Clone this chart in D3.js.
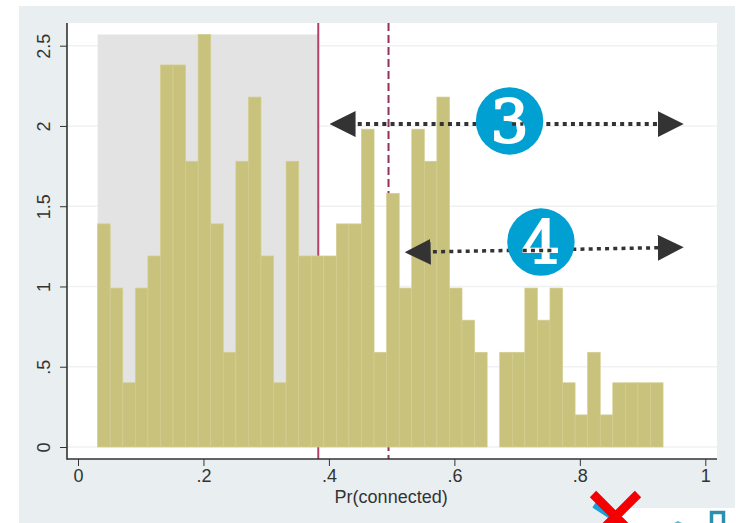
<!DOCTYPE html>
<html>
<head>
<meta charset="utf-8">
<script src="https://cdn.jsdelivr.net/npm/d3@7"></script>
<style>
  html, body { margin: 0; padding: 0; background: #fff; overflow: hidden; }
  svg { display: block; }
  text { font-family: "Liberation Sans", Arial, sans-serif; fill: #333; }
</style>
</head>
<body>
<script>
  // histogram densities, one per bin
  const densities = [
    1.39, 0.99, 0.40, 0.99, 1.19, 2.38, 2.38, 1.78, 2.57, 1.39,
    0.59, 1.78, 2.18, 1.19, 0.40, 1.78, 1.19, 1.19, 1.19, 1.39,
    1.39, 1.98, 0.59, 1.58, 0.99, 1.98, 1.78, 2.18, 0.99, 0.79,
    0.59, 0, 0.59, 0.59, 0.99, 0.79, 0.99, 0.40, 0.20, 0.59,
    0.20, 0.40, 0.40, 0.40, 0.40
  ];
  const binStart = 0.0313;
  const binWidth = 0.02003;

  const xTicks = [0, 0.2, 0.4, 0.6, 0.8, 1];
  const xTickLabels = ["0", ".2", ".4", ".6", ".8", "1"];
  const yTicks = [0, 0.5, 1, 1.5, 2, 2.5];
  const yTickLabels = ["0", ".5", "1", "1.5", "2", "2.5"];
  const xTitle = "Pr(connected)";

  // thresholds: solid and dashed vertical lines
  const solidCut = 0.383;
  const dashedCut = 0.495;
  const shadeTop = 2.57;

  // annotation arrows and badges, in data units
  const arrows = [
    { x1: 0.401, y1: 2.012, x2: 0.9656, y2: 2.012 },
    { x1: 0.5208, y1: 1.215, x2: 0.9656, y2: 1.242 }
  ];
  const badges = [
    { label: "3", x: 0.688, y: 2.031, digitFrom: 0.692, digitTo: 0.71 },
    { label: "4", x: 0.738, y: 1.277, digitFrom: 0.709, digitTo: 0.757 }
  ];

  const width = 736;
  const height = 523;
  const margin = { top: 23, right: 19, bottom: 64, left: 67 };

  var svg = d3.select("body").append("svg")
    .attr("width", width)
    .attr("height", height);

  // outer slide background and plot region
  svg.append("rect").attr("x", 19).attr("y", 6)
    .attr("width", width - 20).attr("height", height - 6)
    .attr("fill", "#e9eef1");
  svg.append("rect").attr("x", margin.left).attr("y", margin.top)
    .attr("width", width - margin.left - margin.right)
    .attr("height", height - margin.top - margin.bottom)
    .attr("fill", "#fff");

  var x = d3.scaleLinear().domain([0, 1]).range([78, 705.3]);
  var y = d3.scaleLinear().domain([0, 2.5]).range([447, 45.7]);

  const plotBottom = height - margin.bottom;
  const plotRight = width - margin.right;

  // grid
  svg.append("g").selectAll("line").data(yTicks).join("line")
    .attr("x1", margin.left).attr("x2", plotRight)
    .attr("y1", d => y(d)).attr("y2", d => y(d))
    .attr("stroke", "#eef2f3").attr("stroke-width", 1.5);

  // shaded area up to the solid threshold
  svg.append("rect")
    .attr("x", x(binStart)).attr("y", y(shadeTop))
    .attr("width", x(solidCut) - x(binStart))
    .attr("height", y(0) - y(shadeTop))
    .attr("fill", "#e3e3e3");

  // threshold lines sit behind the bars
  svg.append("line")
    .attr("x1", x(solidCut)).attr("x2", x(solidCut))
    .attr("y1", margin.top).attr("y2", plotBottom)
    .attr("stroke", "#b5416b").attr("stroke-width", 2);
  svg.append("line")
    .attr("x1", x(dashedCut)).attr("x2", x(dashedCut))
    .attr("y1", margin.top).attr("y2", plotBottom)
    .attr("stroke", "#93325c").attr("stroke-width", 2)
    .attr("stroke-dasharray", "8,4");

  // bars
  svg.append("g").selectAll("rect")
    .data(densities.map((d, i) => ({ i: i, d: d })).filter(b => b.d > 0))
    .join("rect")
    .attr("x", b => x(binStart + b.i * binWidth))
    .attr("y", b => y(b.d))
    .attr("width", x(binWidth) - x(0))
    .attr("height", b => y(0) - y(b.d))
    .attr("fill", "#c8c27d")
    .attr("stroke", "#d3ce90")
    .attr("stroke-width", 0.7);

  // y axis, labels rotated like Stata does
  var yAxis = svg.append("g")
    .attr("transform", "translate(" + margin.left + ",0)")
    .call(d3.axisLeft(y).tickValues(yTicks).tickFormat((d, i) => yTickLabels[i]).tickSize(7).tickPadding(0));
  yAxis.select(".domain").remove();
  yAxis.selectAll(".tick line").attr("stroke", "#333").attr("stroke-width", 1);
  yAxis.selectAll(".tick text")
    .attr("transform", "rotate(-90)")
    .attr("x", 0).attr("y", -17)
    .attr("dy", 0)
    .attr("text-anchor", "middle")
    .attr("font-size", 18).style("font-family", "Liberation Sans").attr("fill", "#333");

  // x axis
  var xAxis = svg.append("g")
    .attr("transform", "translate(0," + plotBottom + ")")
    .call(d3.axisBottom(x).tickValues(xTicks).tickFormat((d, i) => xTickLabels[i]).tickSize(7).tickPadding(0));
  xAxis.select(".domain").remove();
  xAxis.selectAll(".tick line").attr("stroke", "#333").attr("stroke-width", 1);
  xAxis.selectAll(".tick text")
    .attr("y", 23).attr("dy", 0)
    .attr("font-size", 18).style("font-family", "Liberation Sans").attr("fill", "#333");

  // axis lines
  svg.append("line")
    .attr("x1", margin.left).attr("x2", margin.left)
    .attr("y1", margin.top).attr("y2", plotBottom + 0.8)
    .attr("stroke", "#333").attr("stroke-width", 1.6);
  svg.append("line")
    .attr("x1", margin.left).attr("x2", plotRight)
    .attr("y1", plotBottom).attr("y2", plotBottom)
    .attr("stroke", "#333").attr("stroke-width", 1.6);

  svg.append("text")
    .attr("x", x(0.5) - 0.5).attr("y", 503)
    .attr("text-anchor", "middle")
    .attr("font-size", 18)
    .text(xTitle);

  // arrowheads, the tip reaches past the end of the dotted line
  const headBack = 20;
  const defs = svg.append("defs");
  defs.append("marker")
    .attr("id", "head")
    .attr("markerUnits", "userSpaceOnUse")
    .attr("viewBox", "0 0 26 26")
    .attr("refX", 6).attr("refY", 13)
    .attr("markerWidth", 26).attr("markerHeight", 26)
    .attr("orient", "auto-start-reverse")
    .append("path")
    .attr("d", d3.line()([[0, 0], [26, 13], [0, 26]]) + "Z")
    .attr("fill", "#333");

  svg.append("g").selectAll("line").data(arrows).join("line")
    .attr("x1", d => x(d.x1) + headBack).attr("y1", d => y(d.y1))
    .attr("x2", d => x(d.x2) - headBack).attr("y2", d => y(d.y2))
    .attr("stroke", "#333")
    .attr("stroke-width", (d, i) => i === 0 ? 4 : 3.5)
    .attr("stroke-dasharray", "4,4.2")
    .attr("marker-start", "url(#head)")
    .attr("marker-end", "url(#head)");

  // numbered badges
  var badge = svg.append("g").selectAll("g").data(badges).join("g");
  badge.append("circle")
    .attr("cx", d => x(d.x)).attr("cy", d => y(d.y))
    .attr("r", 33.7)
    .attr("fill", "#00a0d2");
  badge.append("text")
    .attr("x", d => x(d.x)).attr("y", d => y(d.y) + 22)
    .attr("text-anchor", "middle")
    .attr("font-size", 60)
    .style("font-family", "DejaVu Serif")
    .style("fill", "#fff")
    .style("stroke", "#fff")
    .style("stroke-width", 2)
    .text(d => d.label);

  // the dotted line shows through the white digit
  badge.append("line")
    .attr("x1", d => x(d.digitFrom)).attr("x2", d => x(d.digitTo))
    .attr("y1", (d, i) => y(arrows[i].y1) + (i ? -1.5 : 0))
    .attr("y2", (d, i) => y(arrows[i].y1) + (i ? -1.5 : 0))
    .attr("stroke", "#333")
    .attr("stroke-width", 3.5)
    .attr("stroke-dasharray", "4,4.2");

  // cropped slide furniture in the bottom right corner
  svg.append("rect").attr("x", 620).attr("y", 508)
    .attr("width", 116).attr("height", 15).attr("fill", "#fff");
  svg.append("path").attr("d", "M594,505L626,526")
    .attr("stroke", "#1aa3d8").attr("stroke-width", 6).attr("fill", "none");
  svg.append("path").attr("d", "M711.5,523V512.5H723.5V523")
    .attr("stroke", "#2b8fae").attr("stroke-width", 3.5).attr("fill", "none");
  svg.append("path").attr("d", "M674,523L678,521L682,523Z").attr("fill", "#5fb7d4");
  svg.append("path").attr("d", "M593,494L637,538M638,494L594,538")
    .attr("stroke", "#f40000").attr("stroke-width", 9).attr("fill", "none");
</script>
</body>
</html>
